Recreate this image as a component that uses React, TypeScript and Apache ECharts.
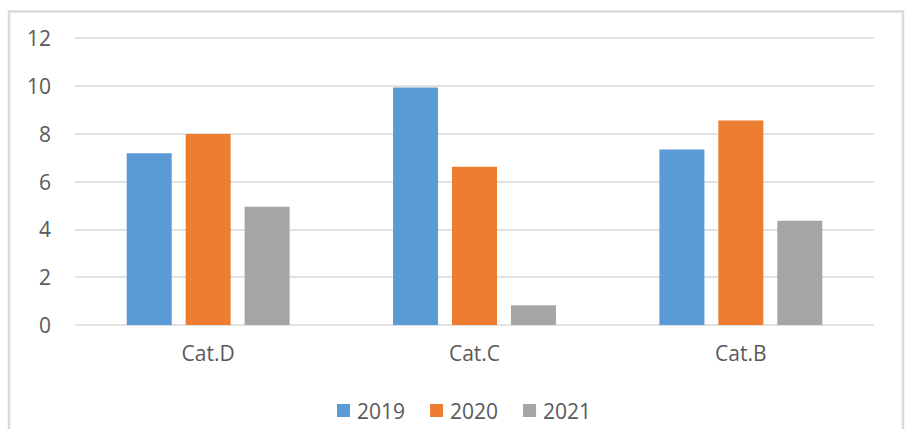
import React, { useEffect, useRef } from "react";
import * as echarts from "echarts";

const categories = ["Cat.D", "Cat.C", "Cat.B"];
const seriesNames = ["2019", "2020", "2021"];
const values2019 = [7.18, 9.93, 7.34];
const values2020 = [7.99, 6.62, 8.55];
const values2021 = [4.94, 0.83, 4.36];
const colors = ["#5B9BD5", "#ED7D31", "#A5A5A5"];
const yTicks = { min: 0, max: 12, interval: 2 };

export default function App() {
  const ref = useRef<HTMLDivElement>(null);
  useEffect(() => {
    document.body.style.margin = "0";
    const chart = echarts.init(ref.current!, null, { renderer: "svg" });
    const font = "'Open Sans', 'Noto Sans', sans-serif";
    const data = [values2019, values2020, values2021];
    chart.setOption({
      animation: false,
      backgroundColor: "#ffffff",
      color: colors,
      textStyle: { fontFamily: font },
      graphic: [
        {
          type: "rect",
          shape: { x: 9, y: 11.5, width: 894, height: 440 },
          style: { fill: "none", stroke: "#d9d9d9", lineWidth: 2.5 },
          silent: true,
        },
      ],
      grid: { left: 75, right: 31, top: 38, bottom: 104, containLabel: false },
      legend: {
        data: seriesNames,
        left: 332,
        top: 395,
        itemWidth: 13,
        itemHeight: 13,
        itemGap: 25,
        icon: "rect",
        textStyle: { fontSize: 21, color: "#595959", fontFamily: font, padding: [0, 0, 0, 2] },
      },
      xAxis: {
        type: "category",
        data: categories,
        axisLine: { show: false },
        axisTick: { show: false },
        axisLabel: { fontSize: 21, color: "#595959", margin: 17, fontFamily: font },
      },
      yAxis: {
        type: "value",
        min: yTicks.min,
        max: yTicks.max,
        interval: yTicks.interval,
        axisLine: { show: false },
        axisTick: { show: false },
        axisLabel: { fontSize: 21, color: "#595959", margin: 24, fontFamily: font },
        splitLine: { lineStyle: { color: "#d9d9d9", width: 1.5 } },
      },
      series: seriesNames.map((name, i) => ({
        name,
        type: "bar",
        data: data[i],
        barWidth: 45,
        barGap: "31%",
        itemStyle: { color: colors[i] },
      })),
    });
    return () => chart.dispose();
  }, []);
  return <div ref={ref} style={{ width: 905, height: 429 }} />;
}
